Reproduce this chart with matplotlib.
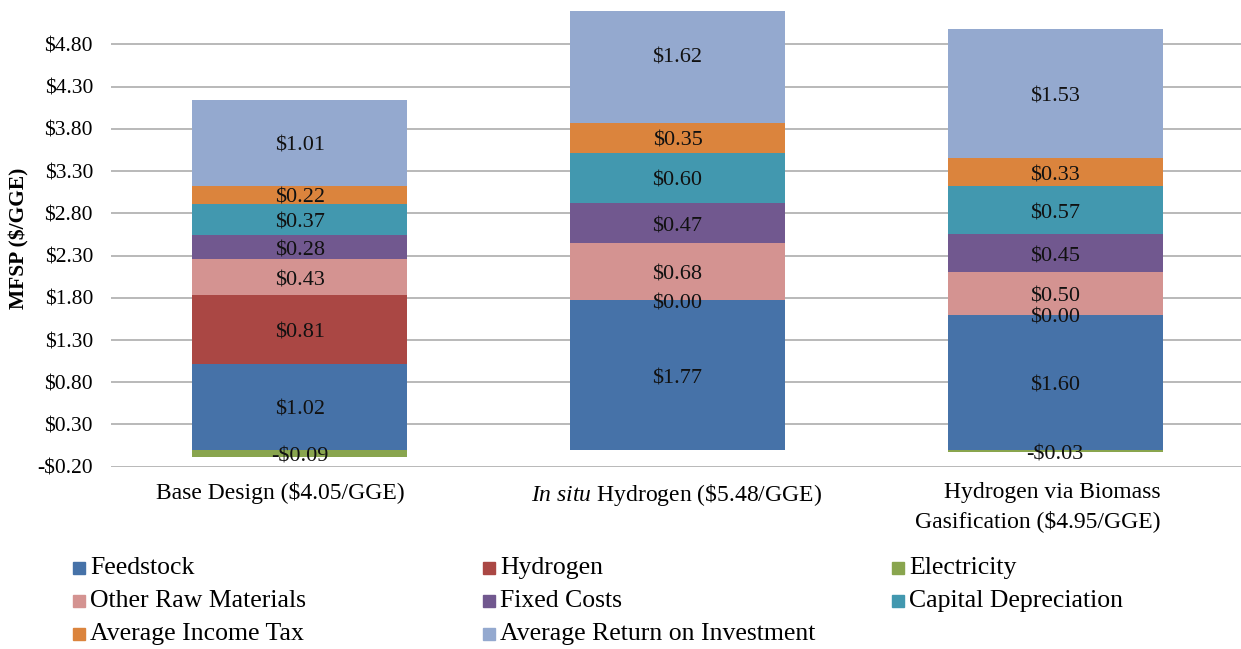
import matplotlib
matplotlib.use("Agg")
import matplotlib.pyplot as plt
import matplotlib.transforms as mtransforms
import numpy as np
from matplotlib.patches import Rectangle

plt.rcParams['font.family'] = ['Liberation Serif', 'DejaVu Serif']
plt.rcParams['mathtext.fontset'] = 'custom'
plt.rcParams['mathtext.rm'] = 'Liberation Serif'
plt.rcParams['mathtext.it'] = 'Liberation Serif:italic'

categories = ["Base Design ($4.05/GGE)",
              r"$\mathit{In\ situ}$ Hydrogen (\$5.48/GGE)",
              "Hydrogen via Biomass\nGasification ($4.95/GGE)"]
series_names = ["Feedstock", "Hydrogen", "Electricity", "Other Raw Materials",
                "Fixed Costs", "Capital Depreciation", "Average Income Tax",
                "Average Return on Investment"]
colors = ["#4672A8", "#AA4744", "#89A54E", "#D49391", "#71588F", "#4298AF",
          "#DB843D", "#94A9CF"]
feedstock = [1.02, 1.77, 1.60]
hydrogen = [0.81, 0.00, 0.00]
electricity = [-0.09, None, -0.03]
other_raw = [0.43, 0.68, 0.50]
fixed_costs = [0.28, 0.47, 0.45]
capital_dep = [0.37, 0.60, 0.57]
income_tax = [0.22, 0.35, 0.33]
roi = [1.01, 1.62, 1.53]
series = [feedstock, hydrogen, electricity, other_raw, fixed_costs,
          capital_dep, income_tax, roi]
yticks = np.arange(-0.20, 4.81, 0.50)

W, H = 1241, 649
fig = plt.figure(figsize=(W / 100, H / 100), dpi=100)
ax = fig.add_axes([111 / W, 1 - 466.7 / H, (1244 - 111) / W, (466.7 - 10.7) / H])

x = np.arange(len(categories))
pos_bottom = np.zeros(len(categories))
neg_bottom = np.zeros(len(categories))
bw = 0.57
for name, vals, col in zip(series_names, series, colors):
    for i, v in enumerate(vals):
        if v is None:
            continue
        if v >= 0:
            b = pos_bottom[i]
            pos_bottom[i] += v
        else:
            b = neg_bottom[i]
            neg_bottom[i] += v
        ax.bar(x[i], v, bottom=b, width=bw, color=col, linewidth=0, zorder=2)
        label = ("-$%.2f" % abs(v)) if v < 0 else ("$%.2f" % v)
        ax.annotate(label, (x[i], b + v / 2), xytext=(0, -2.5),
                    textcoords='offset points', ha='center', va='center',
                    fontsize=16, color='#111111', zorder=3)

ax.set_xlim(-0.5, 2.5)
ax.set_ylim(-0.20, 5.20)
ax.set_yticks(yticks)
ax.set_yticklabels([("-$%.2f" % abs(t)) if t < 0 else ("$%.2f" % t) for t in yticks])
ax.set_xticks(x)
ax.set_xticklabels(categories, linespacing=1.4)
ax.tick_params(axis='y', length=0, pad=13, labelsize=15.5)
ax.tick_params(axis='x', length=0, pad=11, labelsize=17)
# horizontal shifts of the category labels (pixels), as in the reference
shifts = [-20, -1, -17]
for lbl, dx in zip(ax.get_xticklabels(), shifts):
    lbl.set_transform(lbl.get_transform() +
                      mtransforms.ScaledTranslation(dx / 100, 0, fig.dpi_scale_trans))
ax.get_xticklabels()[2].set_multialignment('right')
ax.grid(axis='y', color='#A6A6A6', linewidth=1.1, zorder=0)
ax.set_axisbelow(True)
for s in ax.spines.values():
    s.set_visible(False)

fig.text(19 / W, 1 - 238 / H, "MFSP ($/GGE)", rotation=90, ha='center',
         va='center', fontsize=15.5, fontweight='bold')

# legend (row-major, 3 columns)
col_x = [73, 483, 892]
row_y = [568, 601, 634]
for i, (name, col) in enumerate(zip(series_names, colors)):
    r, c = divmod(i, 3)
    fig.patches.append(Rectangle(((col_x[c]) / W, 1 - (row_y[r] + 6) / H),
                                 12 / W, 12 / H, transform=fig.transFigure,
                                 color=col, figure=fig))
    fig.text((col_x[c] + 17) / W, 1 - row_y[r] / H, name, ha='left',
             va='center', fontsize=18.5)

fig.savefig("out.png", dpi=100)
